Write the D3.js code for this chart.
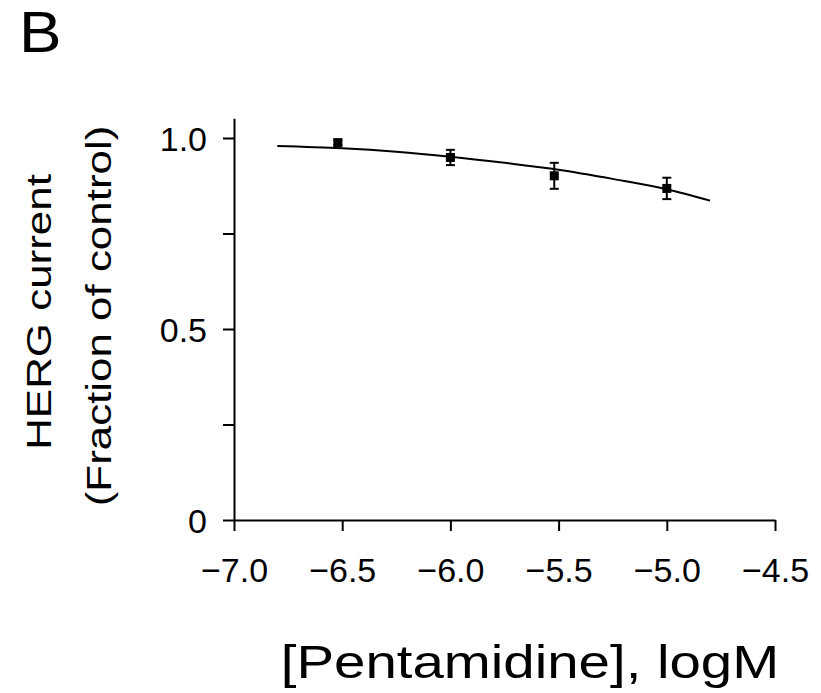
<!DOCTYPE html>
<html>
<head>
<meta charset="utf-8">
<script src="https://cdn.jsdelivr.net/npm/d3@7"></script>
<style>
  html, body { margin: 0; padding: 0; background: #fff; }
  svg { display: block; }
  text { font-family: "Liberation Sans", Arial, Helvetica, sans-serif; fill: #000; }
</style>
</head>
<body>
<svg id="chart" width="821" height="693"></svg>
<script>
// Measured concentrations (log M) and normalised HERG current
const logConc   = [-6.52, -6.0, -5.52, -5.0];
const fraction  = [0.988, 0.949, 0.901, 0.868];
const sem       = [0.006, 0.020, 0.034, 0.028];

// Concentration-response fit, traced along its length
const fitLogConc  = [-6.80, -6.50, -6.25, -6.00, -5.75, -5.50, -5.25, -5.00, -4.80];
const fitFraction = [0.979, 0.973, 0.964, 0.951, 0.935, 0.917, 0.893, 0.866, 0.836];

// Axis ticks
const xTicks = [-7.0, -6.5, -6.0, -5.5, -5.0, -4.5];
const yTicks = [0, 0.25, 0.5, 0.75, 1.0];
const yLabels = {0: "0", 0.5: "0.5", 1: "1.0"};

const svg = d3.select("#chart");
const stretch = 1.2;   // titles are set slightly wide

const x = d3.scaleLinear().domain([-7.0, -4.5]).range([234, 775]);
const y = d3.scaleLinear().domain([0, 1.0]).range([520, 138]);
const yTop = 1.052;

// Panel letter
svg.append("text")
  .attr("transform", "translate(19,52) scale(1.1,1)")
  .attr("font-size", 58)
  .text("B");

// Axes
const fmtX = d3.format(".1f");
const xAxis = d3.axisBottom(x)
  .tickValues(xTicks)
  .tickSize(11)
  .tickSizeOuter(0)
  .tickFormat(d => fmtX(d));
const yAxis = d3.axisLeft(y.copy().domain([0, yTop]).range([520, y(yTop)]))
  .tickValues(yTicks)
  .tickSize(11)
  .tickSizeOuter(0)
  .tickFormat(d => yLabels[d] !== undefined ? yLabels[d] : "");

const gx = svg.append("g").attr("transform", `translate(0,${y(0)})`).call(xAxis);
const gy = svg.append("g").attr("transform", `translate(${x(-7.0)},0)`).call(yAxis);

[gx, gy].forEach(g => {
  g.selectAll("path.domain").attr("stroke", "#000").attr("stroke-width", 2);
  g.selectAll(".tick line").attr("stroke", "#000").attr("stroke-width", 2);
  g.selectAll(".tick text")
    .attr("font-size", 34)
    .attr("fill", "#000")
    .style("font-family", '"Liberation Sans", Arial, sans-serif');
});
gx.selectAll(".tick text")
  .attr("dy", 0)
  .attr("y", 62);
gy.selectAll(".tick text")
  .attr("dy", "0.36em")
  .attr("x", -27);

// Fitted curve
const line = d3.line()
  .x((d, i) => x(fitLogConc[i]))
  .y(d => y(d))
  .curve(d3.curveMonotoneX);
svg.append("path")
  .datum(fitFraction)
  .attr("fill", "none")
  .attr("stroke", "#000")
  .attr("stroke-width", 2)
  .attr("d", line);

// Error bars and markers
const pts = logConc.map((c, i) => ({c, v: fraction[i], e: sem[i]}));
const capW = 4.5;
const gp = svg.append("g");
pts.forEach(p => {
  const cx = x(p.c);
  const y1 = y(p.v + p.e), y2 = y(p.v - p.e);
  gp.append("line").attr("x1", cx).attr("x2", cx).attr("y1", y1).attr("y2", y2)
    .attr("stroke", "#000").attr("stroke-width", 2);
  [y1, y2].forEach(yy => gp.append("line")
    .attr("x1", cx - capW).attr("x2", cx + capW).attr("y1", yy).attr("y2", yy)
    .attr("stroke", "#000").attr("stroke-width", 2));
  gp.append("rect")
    .attr("x", cx - 4.5).attr("y", y(p.v) - 4.5)
    .attr("width", 9).attr("height", 9)
    .attr("fill", "#000");
});

// Axis titles
svg.append("text")
  .attr("transform", `translate(530,678) scale(${stretch},1)`)
  .attr("text-anchor", "middle")
  .attr("font-size", 47)
  .text("[Pentamidine], logM");

svg.append("text")
  .attr("transform", `translate(51,312) rotate(-90) scale(1.22,1)`)
  .attr("text-anchor", "middle")
  .attr("font-size", 36)
  .text("HERG current");
svg.append("text")
  .attr("transform", `translate(111,316) rotate(-90) scale(1.22,1)`)
  .attr("text-anchor", "middle")
  .attr("font-size", 36)
  .text("(Fraction of control)");
</script>
</body>
</html>
